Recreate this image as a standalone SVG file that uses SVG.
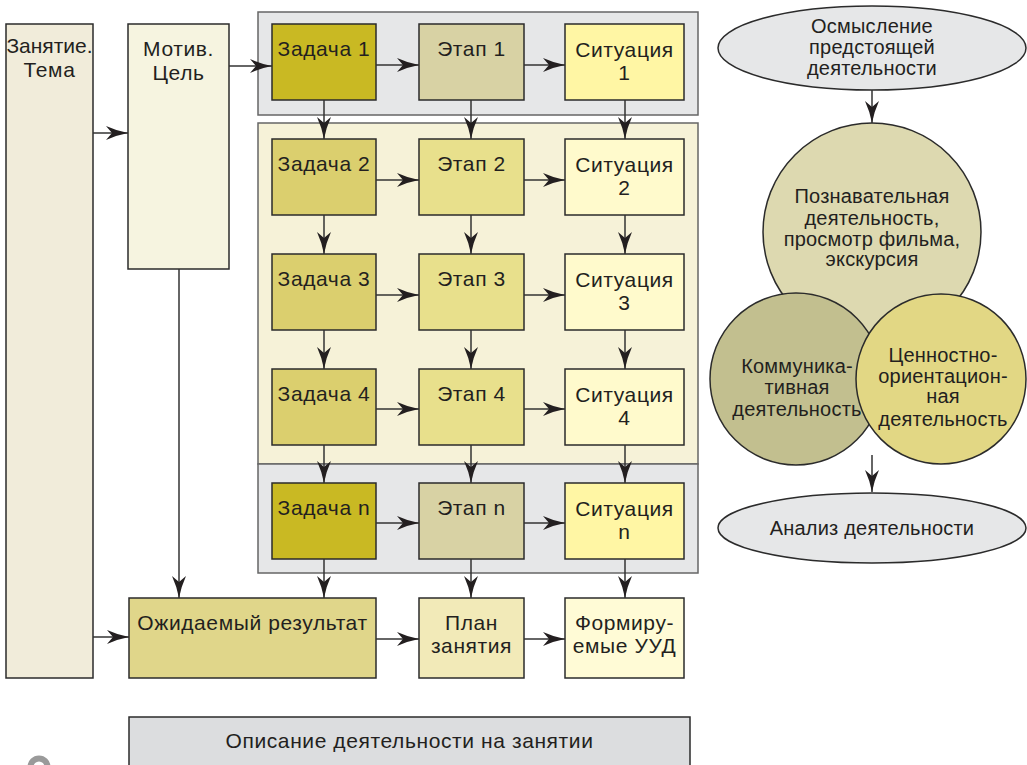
<svg xmlns="http://www.w3.org/2000/svg" width="1027" height="765" viewBox="0 0 1027 765">
<style>
.b{stroke:#2b2b2b;stroke-width:1.5}
.g{stroke:#666;stroke-width:1.5}
.t{font-family:"Liberation Sans",Arial,sans-serif;font-size:21px;letter-spacing:0.6px;fill:#231f20;text-anchor:middle}
.r{font-family:"Liberation Sans",Arial,sans-serif;font-size:20px;letter-spacing:0.2px;fill:#231f20;text-anchor:middle}
.c{stroke:#333;stroke-width:1.5;fill:none}
.z1{fill:#c9b923}.z2{fill:#dbcf6e}
.e1{fill:#d8d2a4}.e2{fill:#e8e08c}
.s1{fill:#fff6a4}.s2{fill:#fffacc}
</style>
<defs>
<marker id="ah" viewBox="0 0 22 14" refX="22" refY="7" markerWidth="22" markerHeight="14" markerUnits="userSpaceOnUse" orient="auto">
<path d="M0,0 Q11,5 22,7 Q11,9 0,14 L6,7 Z" fill="#231f20"/>
</marker>
</defs>
<rect width="1027" height="765" fill="#fff"/>

<g id="groups">
<rect x="258" y="12" width="440" height="103" fill="#e6e7e8" class="g"/>
<rect x="258" y="123" width="440" height="341" fill="#f6f2d8" class="g"/>
<rect x="258" y="464" width="440" height="109" fill="#e6e7e8" class="g"/>
</g>

<g id="zanyatie"><rect x="6" y="24" width="87" height="654" fill="#f1ecda" class="b"/>
<text class="t" x="49.5" y="53" style="letter-spacing:0">Занятие.</text><text class="t" x="49.5" y="77">Тема</text></g>
<g id="motiv"><rect x="128" y="24" width="101" height="245" fill="#f6f4e0" class="b"/>
<text class="t" x="178.5" y="56">Мотив.</text><text class="t" x="178.5" y="80">Цель</text></g>

<g id="zadacha1"><rect x="272" y="24" width="104" height="76" class="b z1"/><text class="t" x="324" y="56">Задача 1</text></g>
<g id="etap1"><rect x="419" y="24" width="105" height="76" class="b e1"/><text class="t" x="471.5" y="56">Этап 1</text></g>
<g id="sit1"><rect x="565" y="24" width="119" height="76" class="b s1"/><text class="t" x="624.5" y="57">Ситуация</text><text class="t" x="624.5" y="80">1</text></g>

<g id="zadacha2"><rect x="272" y="139" width="104" height="76" class="b z2"/><text class="t" x="324" y="171">Задача 2</text></g>
<g id="etap2"><rect x="419" y="139" width="105" height="76" class="b e2"/><text class="t" x="471.5" y="171">Этап 2</text></g>
<g id="sit2"><rect x="565" y="139" width="119" height="76" class="b s2"/><text class="t" x="624.5" y="172">Ситуация</text><text class="t" x="624.5" y="195">2</text></g>

<g id="zadacha3"><rect x="272" y="254" width="104" height="76" class="b z2"/><text class="t" x="324" y="286">Задача 3</text></g>
<g id="etap3"><rect x="419" y="254" width="105" height="76" class="b e2"/><text class="t" x="471.5" y="286">Этап 3</text></g>
<g id="sit3"><rect x="565" y="254" width="119" height="76" class="b s2"/><text class="t" x="624.5" y="287">Ситуация</text><text class="t" x="624.5" y="310">3</text></g>

<g id="zadacha4"><rect x="272" y="369" width="104" height="76" class="b z2"/><text class="t" x="324" y="401">Задача 4</text></g>
<g id="etap4"><rect x="419" y="369" width="105" height="76" class="b e2"/><text class="t" x="471.5" y="401">Этап 4</text></g>
<g id="sit4"><rect x="565" y="369" width="119" height="76" class="b s2"/><text class="t" x="624.5" y="402">Ситуация</text><text class="t" x="624.5" y="425">4</text></g>

<g id="zadachan"><rect x="272" y="483" width="104" height="76" class="b z1"/><text class="t" x="324" y="515">Задача n</text></g>
<g id="etapn"><rect x="419" y="483" width="105" height="76" class="b e1"/><text class="t" x="471.5" y="515">Этап n</text></g>
<g id="sitn"><rect x="565" y="483" width="119" height="76" class="b s1"/><text class="t" x="624.5" y="516">Ситуация</text><text class="t" x="624.5" y="539">n</text></g>

<g id="rezultat"><rect x="129" y="598" width="247" height="80" fill="#e0d68a" class="b"/><text class="t" x="252.5" y="630">Ожидаемый результат</text></g>
<g id="plan"><rect x="419" y="598" width="105" height="80" fill="#f2eab8" class="b"/><text class="t" x="471.5" y="630">План</text><text class="t" x="471.5" y="653">занятия</text></g>
<g id="uud"><rect x="565" y="598" width="119" height="80" fill="#fffbd6" class="b"/><text class="t" x="624.5" y="630">Формиру-</text><text class="t" x="624.5" y="653">емые УУД</text></g>

<g id="opisanie"><rect x="129" y="717" width="561" height="60" fill="#dcdddf" class="b"/><text class="t" x="409.5" y="748">Описание деятельности на занятии</text></g>

<g id="osmyslenie"><ellipse cx="872" cy="48" rx="154" ry="42" fill="#e6e7e8" class="b"/>
<text class="r" x="872" y="33">Осмысление</text><text class="r" x="872" y="54">предстоящей</text><text class="r" x="872" y="75">деятельности</text></g>
<g id="poznav"><circle cx="872" cy="232" r="109" fill="#ddd9b0" class="b"/>
<text class="r" x="872" y="203">Познавательная</text><text class="r" x="872" y="225">деятельность,</text><text class="r" x="872" y="246">просмотр фильма,</text><text class="r" x="872" y="266">экскурсия</text></g>
<g id="kommun"><circle cx="796" cy="379" r="86" fill="#c2bf8f" class="b"/>
<text class="r" x="797" y="373">Коммуника-</text><text class="r" x="797" y="394">тивная</text><text class="r" x="797" y="416">деятельность</text></g>
<g id="cennost"><circle cx="941" cy="379" r="85" fill="#e2d784" class="b"/>
<text class="r" x="943" y="362">Ценностно-</text><text class="r" x="943" y="383">ориентацион-</text><text class="r" x="943" y="403">ная</text><text class="r" x="943" y="426">деятельность</text></g>
<g id="analiz"><ellipse cx="872" cy="528" rx="154" ry="35" fill="#e6e7e8" class="b"/><text class="r" x="872" y="535">Анализ деятельности</text></g>

<g id="connectors" class="c" marker-end="url(#ah)">
<line x1="93" y1="133" x2="128" y2="133"/>
<line x1="93" y1="637" x2="129" y2="637"/>
<line x1="229" y1="66" x2="272" y2="66"/>
<line x1="179" y1="269" x2="179" y2="598"/>
<line x1="376" y1="65" x2="419" y2="65"/>
<line x1="524" y1="65" x2="565" y2="65"/>
<line x1="376" y1="180" x2="419" y2="180"/>
<line x1="524" y1="180" x2="565" y2="180"/>
<line x1="376" y1="295" x2="419" y2="295"/>
<line x1="524" y1="295" x2="565" y2="295"/>
<line x1="376" y1="409" x2="419" y2="409"/>
<line x1="524" y1="409" x2="565" y2="409"/>
<line x1="376" y1="523" x2="419" y2="523"/>
<line x1="524" y1="523" x2="565" y2="523"/>
<line x1="376" y1="639" x2="419" y2="639"/>
<line x1="524" y1="639" x2="565" y2="639"/>
<line x1="324" y1="100" x2="324" y2="139"/>
<line x1="471" y1="100" x2="471" y2="139"/>
<line x1="625" y1="100" x2="625" y2="139"/>
<line x1="324" y1="215" x2="324" y2="254"/>
<line x1="471" y1="215" x2="471" y2="254"/>
<line x1="625" y1="215" x2="625" y2="254"/>
<line x1="324" y1="330" x2="324" y2="369"/>
<line x1="471" y1="330" x2="471" y2="369"/>
<line x1="625" y1="330" x2="625" y2="369"/>
<line x1="324" y1="445" x2="324" y2="483"/>
<line x1="471" y1="445" x2="471" y2="483"/>
<line x1="625" y1="445" x2="625" y2="483"/>
<line x1="324" y1="559" x2="324" y2="598"/>
<line x1="471" y1="559" x2="471" y2="598"/>
<line x1="625" y1="559" x2="625" y2="598"/>
<line x1="872" y1="90" x2="872" y2="123"/>
<line x1="872" y1="455" x2="872" y2="492"/>
</g>
<circle cx="39" cy="767" r="8.5" fill="none" stroke="#9a9a9a" stroke-width="6"/>
</svg>
